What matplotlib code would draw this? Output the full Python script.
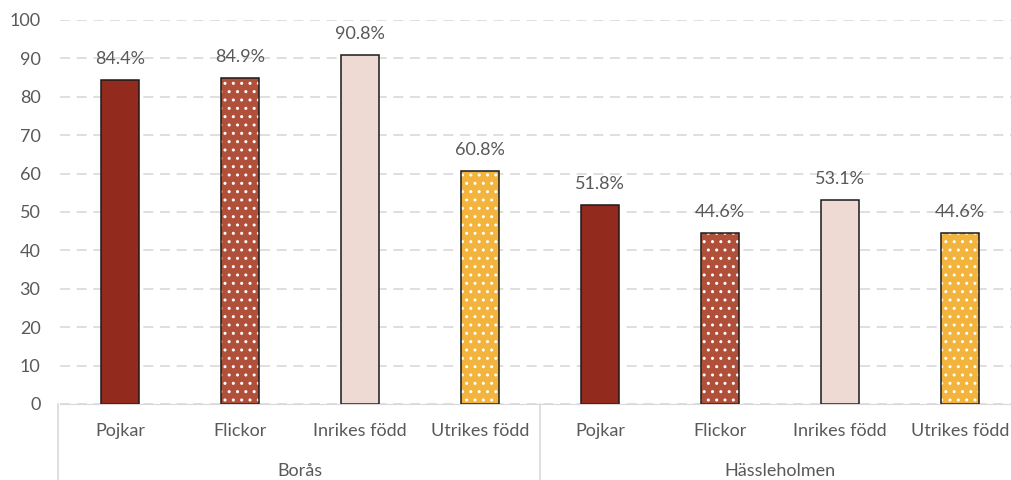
import matplotlib
matplotlib.use('Agg')
from matplotlib import pyplot as plt
import numpy as np

plt.rcParams['font.family'] = ['Lato', 'DejaVu Sans']

groups = ['Borås', 'Hässleholmen']
categories = ['Pojkar', 'Flickor', 'Inrikes född', 'Utrikes född']
values = [84.4, 84.9, 90.8, 60.8, 51.8, 44.6, 53.1, 44.6]
labels = ['84.4%', '84.9%', '90.8%', '60.8%', '51.8%', '44.6%', '53.1%', '44.6%']

colors = ['#922B1E', '#B0503A', '#EFDAD3', '#F2B43C']
hatches = ['', '..', '', '..']
grey = '#595959'

fig = plt.figure(figsize=(10.12, 4.8), dpi=100)
ax = fig.add_axes([60 / 1012, 76 / 480, 960 / 1012, 384 / 480])

x = np.arange(len(values))
for i, v in enumerate(values):
    c = i % 4
    # fill + white dots, then black outline on top
    ax.bar(x[i], v, width=0.32, color=colors[c], hatch=hatches[c],
           edgecolor='white', linewidth=0, zorder=3)
    ax.bar(x[i], v, width=0.32, fill=False, edgecolor='#1a1a1a',
           linewidth=1.1, zorder=4)
    ax.annotate(labels[i], (x[i], v), xytext=(0, 15), textcoords='offset points',
                ha='center', va='center', fontsize=13, color=grey)

ax.set_xlim(-0.5, 7.5)
ax.set_ylim(0, 100)
ax.set_yticks(np.arange(0, 101, 10))
ax.tick_params(axis='y', length=0, labelsize=13, labelcolor=grey, pad=14)
ax.set_xticks(x)
ax.set_xticklabels(categories * 2)
ax.tick_params(axis='x', length=0, labelsize=13, labelcolor=grey, pad=14)

ax.grid(axis='y', color='#D9D9D9', linestyle=(0, (6, 4)), linewidth=1.2, zorder=0)
for s in ['top', 'right', 'left']:
    ax.spines[s].set_visible(False)
ax.spines['bottom'].set_color('#D9D9D9')
ax.spines['bottom'].set_zorder(5)

trans = ax.get_xaxis_transform()
for xv in [-0.52, 3.5, 7.5]:
    ax.plot([xv, xv], [0, -0.2], transform=trans, clip_on=False,
            color='#D9D9D9', linewidth=1.2)
for g, name in enumerate(groups):
    ax.text(1.5 + 4 * g, -0.175, name, transform=trans, ha='center', va='center',
            fontsize=13, color=grey)

plt.savefig('out.png', dpi=100)
